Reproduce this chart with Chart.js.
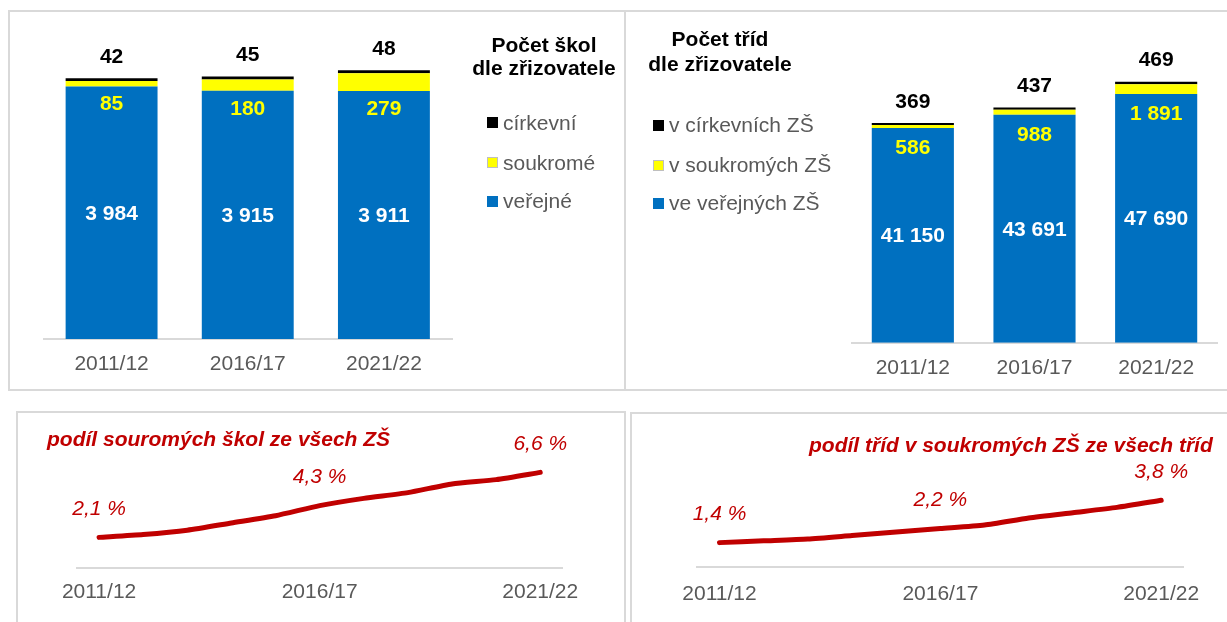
<!DOCTYPE html>
<html lang="cs">
<head>
<meta charset="utf-8">
<title>Počet škol a tříd dle zřizovatele</title>
<script src="https://cdn.jsdelivr.net/npm/chart.js@4/dist/chart.umd.min.js"></script>
<style>
  html, body { margin: 0; padding: 0; background: #fff; }
  body { position: relative; width: 1227px; height: 622px; overflow: hidden;
         font-family: 'Liberation Sans', Arial, sans-serif; }
  .panel { position: absolute; box-sizing: border-box; border: 2px solid #d9d9d9; }
  canvas { position: absolute; }
  .legend-title { position: absolute; width: 220px; text-align: center; font-weight: bold;
                  font-size: 21px; color: #000; }
  .legend-item { position: absolute; display: flex; align-items: center; font-size: 21px;
                 line-height: 24px; color: #595959; white-space: nowrap; }
  .legend-item i { display: inline-block; width: 11px; height: 11px; margin-right: 5px; box-sizing: border-box; }
  .red-title { position: absolute; font-size: 21px; line-height: 24px; font-weight: bold;
               font-style: italic; color: #c00000; white-space: nowrap; }
</style>
</head>
<body>

<div class="panel" style="left:8px; top:10px; width:618px; height:381px;"></div>
<div class="panel" style="left:624px; top:10px; width:640px; height:381px;"></div>
<div class="panel" style="left:16px; top:411px; width:610px; height:250px;"></div>
<div class="panel" style="left:630px; top:412px; width:640px; height:250px;"></div>

<canvas id="skoly-chart" width="622" height="395" style="left:0; top:0;"></canvas>
<canvas id="tridy-chart" width="605" height="395" style="left:622px; top:0;"></canvas>
<canvas id="podil-skol-chart" width="622" height="227" style="left:0; top:395px;"></canvas>
<canvas id="podil-trid-chart" width="605" height="227" style="left:622px; top:395px;"></canvas>

<div class="legend-title" style="left:434px; top:33px; line-height:23px;">Počet škol<br>dle zřizovatele</div>
<div id="skoly-legend"></div>
<div class="legend-title" style="left:610px; top:26px; line-height:25px;">Počet tříd<br>dle zřizovatele</div>
<div id="tridy-legend"></div>

<div class="red-title" style="left:47px; top:427px;">podíl souromých škol ze všech ZŠ</div>
<div class="red-title" style="left:809px; top:433px;">podíl tříd v soukromých ZŠ ze všech tříd</div>

<script>
// ─── Data ───────────────────────────────────────────────────

const periods = ['2011/12', '2016/17', '2021/22'];

const skolyNames = ['veřejné', 'soukromé', 'církevní'];
const skolyVerejne = [3984, 3915, 3911];
const skolySoukrome = [85, 180, 279];
const skolyCirkevni = [42, 45, 48];

const tridyNames = ['ve veřejných ZŠ', 'v soukromých ZŠ', 'v církevních ZŠ'];
const tridyVerejne = [41150, 43691, 47690];
const tridySoukrome = [586, 988, 1891];
const tridyCirkevni = [369, 437, 469];

const years = ['2011/12', '2012/13', '2013/14', '2014/15', '2015/16', '2016/17',
               '2017/18', '2018/19', '2019/20', '2020/21', '2021/22'];
const podilSkol = [2.1, 2.3, 2.6, 3.1, 3.6, 4.3, 4.8, 5.2, 5.8, 6.1, 6.6];
const podilTrid = [1.4, 1.5, 1.6, 1.8, 2.0, 2.2, 2.4, 2.8, 3.1, 3.4, 3.8];

// ─── Style ──────────────────────────────────────────────────

const BLUE = '#0070c0';
const YELLOW = '#ffff00';
const BLACK = '#000000';
const RED = '#c00000';
const FONT = "'Liberation Sans', Arial, sans-serif";

Chart.defaults.font.family = FONT;
Chart.defaults.color = '#595959';

const fmtNum = v => String(v).replace(/\B(?=(\d{3})+(?!\d))/g, ' ');
const fmtPct = v => v.toFixed(1).replace('.', ',') + ' %';

// ─── Plugins ────────────────────────────────────────────────

const stackLabels = {
  id: 'stackLabels',
  afterDatasetsDraw(chart, args, opts) {
    const ctx = chart.ctx;
    const ds = chart.data.datasets;
    const base = chart.getDatasetMeta(0).data;
    const top = chart.getDatasetMeta(2).data;
    ctx.save();
    ctx.font = 'bold 21px ' + FONT;
    ctx.textAlign = 'center';
    ctx.textBaseline = 'middle';
    base.forEach((bar, i) => {
      ctx.fillStyle = '#ffffff';
      ctx.fillText(fmtNum(ds[0].data[i]), bar.x, (bar.y + bar.base) / 2 + 1);
      ctx.fillStyle = YELLOW;
      ctx.fillText(fmtNum(ds[1].data[i]), bar.x, bar.y + opts.inner);
      ctx.fillStyle = BLACK;
      ctx.fillText(fmtNum(ds[2].data[i]), bar.x, top[i].y - 21);
    });
    ctx.restore();
  },
};

const pointLabels = {
  id: 'pointLabels',
  afterDatasetsDraw(chart) {
    const ctx = chart.ctx;
    const data = chart.data.datasets[0].data;
    ctx.save();
    ctx.font = 'italic 21px ' + FONT;
    ctx.fillStyle = RED;
    ctx.textAlign = 'center';
    ctx.textBaseline = 'middle';
    chart.getDatasetMeta(0).data.forEach((pt, i) => {
      if (i % 5 !== 0) return;
      ctx.fillText(fmtPct(data[i]), pt.x, pt.y - 28.5);
    });
    ctx.restore();
  },
};

// ─── Builders ───────────────────────────────────────────────

function xAxis(padding) {
  return {
    stacked: true,
    offset: true,
    grid: { display: false, drawTicks: false },
    border: { display: true, color: '#d9d9d9', width: 2 },
    ticks: { color: '#595959', font: { size: 21 }, padding, maxRotation: 0, autoSkip: false },
  };
}

function renderStackChart(id, names, series, max, padding, tickPad, inner) {
  const colors = [BLUE, YELLOW, BLACK];
  return new Chart(document.getElementById(id), {
    type: 'bar',
    data: {
      labels: periods,
      datasets: series.map((data, i) => ({
        label: names[i],
        data,
        backgroundColor: colors[i],
        borderWidth: 0,
        categoryPercentage: 1,
        barPercentage: 0.675,
      })),
    },
    options: {
      responsive: false,
      animation: false,
      devicePixelRatio: 1,
      layout: { padding },
      plugins: {
        legend: { display: false },
        tooltip: { enabled: false },
        stackLabels: { inner },
      },
      scales: {
        x: xAxis(tickPad),
        y: { stacked: true, display: false, min: 0, max },
      },
    },
    plugins: [stackLabels],
  });
}

function renderShareChart(id, data, max, padding, tickPad) {
  return new Chart(document.getElementById(id), {
    type: 'line',
    data: {
      labels: years,
      datasets: [{
        data,
        borderColor: RED,
        borderWidth: 5,
        borderCapStyle: 'round',
        borderJoinStyle: 'round',
        pointRadius: 0,
        tension: 0.2,
      }],
    },
    options: {
      responsive: false,
      animation: false,
      devicePixelRatio: 1,
      layout: { padding },
      plugins: { legend: { display: false }, tooltip: { enabled: false } },
      scales: {
        x: {
          ...xAxis(tickPad),
          stacked: false,
          ticks: {
            ...xAxis(tickPad).ticks,
            callback: (v, i) => (i % 5 === 0 ? years[i] : ''),
          },
        },
        y: { display: false, min: 0, max },
      },
    },
    plugins: [pointLabels],
  });
}

function renderLegend(id, names, left, tops) {
  const colors = [BLUE, YELLOW, BLACK];
  const el = document.getElementById(id);
  // top of the list is the top of the stack
  el.innerHTML = [2, 1, 0].map((s, row) => `
    <div class="legend-item" style="left:${left}px; top:${tops[row]}px;">
      <i style="background:${colors[s]};${s === 1 ? ' border:1px solid #bfbfbf;' : ''}"></i>${names[s]}
    </div>`).join('');
}

// ─── Init ───────────────────────────────────────────────────

renderStackChart('skoly-chart', skolyNames, [skolyVerejne, skolySoukrome, skolyCirkevni],
  5000, { left: 43.5, right: 170, top: 22, bottom: 4.8 }, 13, 18);
renderStackChart('tridy-chart', tridyNames, [tridyVerejne, tridySoukrome, tridyCirkevni],
  60000, { left: 230, right: 10, top: 29.8, bottom: 1.1 }, 13, 20);

renderShareChart('podil-skol-chart', podilSkol, 10,
  { left: 77, right: 59.7, top: 28.3, bottom: 5.1 }, 12);
renderShareChart('podil-trid-chart', podilTrid, 8,
  { left: 75.4, right: 43.7, top: 31.3, bottom: 1.5 }, 14);

renderLegend('skoly-legend', skolyNames, 487, [110.7, 150.7, 189]);
renderLegend('tridy-legend', tridyNames, 653, [113, 153, 191.3]);
</script>
</body>
</html>
